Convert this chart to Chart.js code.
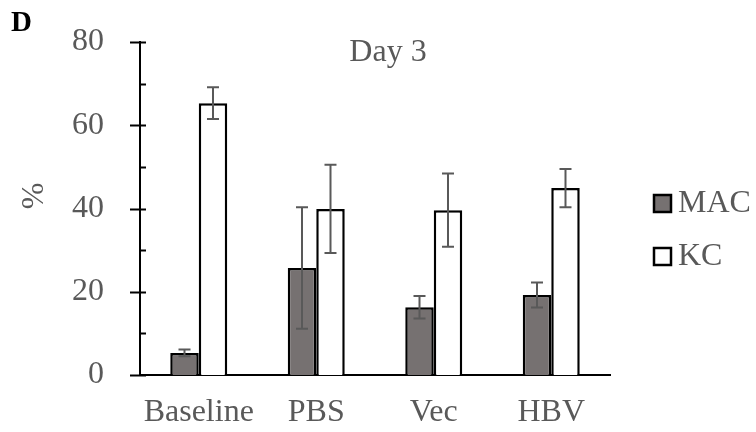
<!DOCTYPE html>
<html>
<head>
<meta charset="utf-8">
<script src="https://cdn.jsdelivr.net/npm/chart.js@4/dist/chart.umd.min.js"></script>
<style>
  html, body { margin: 0; padding: 0; background: #fff; }
  #wrap { width: 756px; height: 432px; }
</style>
</head>
<body>
<div id="wrap"><canvas id="myChart" width="756" height="432"></canvas></div>
<script>
const categories = ['Baseline', 'PBS', 'Vec', 'HBV'];
const macValues = [5.3, 25.7, 16.3, 19.2];
const macErrors = [0.8, 14.6, 2.7, 3.0];
const kcValues = [65.3, 39.9, 39.6, 44.9];
const kcErrors = [3.8, 10.6, 8.8, 4.6];
const yTicks = [0, 20, 40, 60, 80];

const FONT = '"Liberation Serif", "Times New Roman", serif';
const TEXT = '#595959';

// error bars, tick marks, title, panel letter, legend
const extras = {
  id: 'extras',
  afterDatasetsDraw(chart) {
    const ctx = chart.ctx;
    const y = chart.scales.y;
    const area = chart.chartArea;
    const errs = [macErrors, kcErrors];

    ctx.save();
    ctx.strokeStyle = TEXT;
    ctx.lineWidth = 2;
    chart.data.datasets.forEach((ds, i) => {
      chart.getDatasetMeta(i).data.forEach((bar, j) => {
        const v = ds.data[j], e = errs[i][j];
        const top = y.getPixelForValue(v + e);
        const bot = y.getPixelForValue(v - e);
        ctx.beginPath();
        ctx.moveTo(bar.x, top); ctx.lineTo(bar.x, bot);
        ctx.moveTo(bar.x - 6, top); ctx.lineTo(bar.x + 6, top);
        ctx.moveTo(bar.x - 6, bot); ctx.lineTo(bar.x + 6, bot);
        ctx.stroke();
      });
    });

    // y tick marks: majors cross the axis, minors inside
    ctx.strokeStyle = '#000';
    y.ticks.forEach(t => {
      const py = Math.round(y.getPixelForValue(t.value)) + 0.5;
      const major = yTicks.includes(t.value);
      ctx.beginPath();
      ctx.moveTo(area.left - (major ? 10 : 0), py);
      ctx.lineTo(area.left + 6, py);
      ctx.stroke();
    });

    ctx.fillStyle = TEXT;
    ctx.font = '32px ' + FONT;
    ctx.textAlign = 'center';
    ctx.textBaseline = 'middle';
    ctx.fillText('Day 3', 388, 53);

    ctx.save();
    ctx.translate(35, 196);
    ctx.rotate(-Math.PI / 2);
    ctx.fillText('%', 0, 0);
    ctx.restore();

    ctx.fillStyle = '#000';
    ctx.font = 'bold 29px ' + FONT;
    ctx.textAlign = 'left';
    ctx.fillText('D', 11, 24);

    // legend
    ctx.font = '32px ' + FONT;
    chart.data.datasets.forEach((ds, i) => {
      const ly = 204 + i * 53;
      ctx.fillStyle = ds.backgroundColor;
      ctx.fillRect(654, ly - 9, 17, 17);
      ctx.strokeStyle = '#000';
      ctx.lineWidth = 2.5;
      ctx.strokeRect(654, ly - 9, 17, 17);
      ctx.fillStyle = TEXT;
      ctx.fillText(ds.label, 678, ly);
    });
    ctx.restore();
  }
};

new Chart(document.getElementById('myChart'), {
  type: 'bar',
  data: {
    labels: categories,
    datasets: [
      { label: 'MAC', data: macValues, backgroundColor: '#767171', borderColor: '#000', borderWidth: 2.5 },
      { label: 'KC', data: kcValues, backgroundColor: '#ffffff', borderColor: '#000', borderWidth: 2.5 }
    ]
  },
  options: {
    responsive: false,
    animation: false,
    layout: { padding: { top: 42, right: 146, left: 0, bottom: 0 } },
    datasets: { bar: { categoryPercentage: 0.485, barPercentage: 1.0 } },
    plugins: {
      legend: { display: false },
      tooltip: { enabled: false }
    },
    scales: {
      x: {
        grid: { display: false, drawTicks: true, tickLength: 18 },
        border: { color: '#000', width: 2 },
        ticks: { color: TEXT, font: { family: FONT, size: 32 }, padding: 0 },
        afterFit: s => { s.height = 57; }
      },
      y: {
        min: 0, max: 80,
        grid: { display: false, drawTicks: true, tickLength: 36 },
        border: { color: '#000', width: 2 },
        ticks: {
          stepSize: 10,
          color: TEXT,
          font: { family: FONT, size: 32 },
          padding: 0,
          callback: v => yTicks.includes(v) ? v : ''
        },
        afterFit: s => { s.width = 140; }
      }
    }
  },
  plugins: [extras]
});
</script>
</body>
</html>
